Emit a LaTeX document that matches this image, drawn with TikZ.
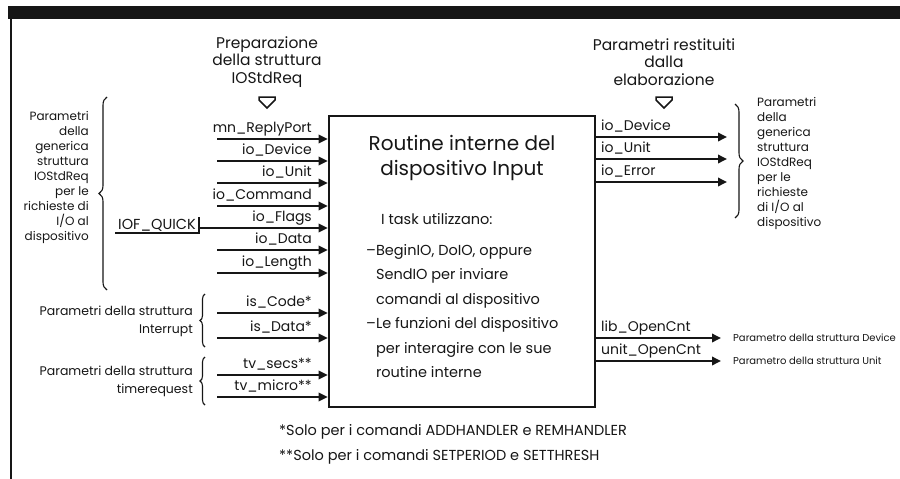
\documentclass[tikz,border=0pt]{standalone}
\usepackage{fontspec}
\setmainfont{Poppins}
\usetikzlibrary{arrows.meta,positioning,calc,decorations.pathreplacing}
\definecolor{Ink}{HTML}{161616}
\tikzset{
  arr/.style={-{Triangle[length=9pt,width=8.5pt]}, line width=1.8pt, draw=Ink},
  lbl/.style={inner xsep=1pt, inner ysep=0pt, text height=11pt, text depth=6pt, text=Ink, font=\fontsize{14}{16}\selectfont},
  quickbox/.style={inner xsep=3pt, inner ysep=0pt, text height=13pt, text depth=3pt, text=Ink, font=\fontsize{14.5}{16}\selectfont},
  head/.style={align=center, text=Ink, font=\fontsize{15.5}{17.5}\selectfont},
  note/.style={inner sep=0pt, text=Ink, font=\fontsize{12}{15}\selectfont},
  small/.style={inner sep=0pt, text=Ink, font=\fontsize{10}{12}\selectfont},
  titletext/.style={align=center, text=Ink, font=\fontsize{20}{25}\selectfont},
  body/.style={inner sep=0pt, align=left, text=Ink, font=\fontsize{14.5}{24.5}\selectfont},
  fnote/.style={inner sep=0pt, text=Ink, font=\fontsize{14.5}{16}\selectfont},
  devbox/.style={draw=Ink, line width=2.6pt, minimum width=266pt, minimum height=291pt, inner sep=0pt},
  brace/.style={decorate, decoration={brace, amplitude=#1}, line width=1.1pt, draw=Ink},
  hollow/.style={line width=1.5pt, draw=Ink, line join=miter}
}

\begin{document}
\begin{tikzpicture}[x=1pt,y=-1pt]
\useasboundingbox (0,0) rectangle (900,479);
% frame
\fill[Ink] (8,6) rectangle (900,19);
\draw[Ink, line width=2pt] (10.5,19) -- (10.5,479);

% device routines
\node[devbox] (dev) at (462,261.5) {};
\node[titletext] (devtitle) at (462,158) {Routine interne del\\dispositivo Input};
\node[body, anchor=west] (tasks) at (381,219) {I task utilizzano:};
\node[body, anchor=west] (tasklist) at (366,311) {–BeginIO, DoIO, oppure\\\phantom{–}SendIO per inviare\\\phantom{–}comandi al dispositivo\\–Le funzioni del dispositivo\\\phantom{–}per interagire con le sue\\\phantom{–}routine interne};

% headings
\coordinate (hline) at (0,97);
\node[head] (prep) at (267,62) {Preparazione\\della struttura\\IOStdReq};
\node[head] (ret) at (664,62) {Parametri restituiti\\dalla\\elaborazione};
\draw[hollow] (prep.south |- hline) ++(-8,0) -- ++(16,0) -- ++(0,3) -- ++(-8,8) -- ++(-8,-8) -- cycle;
\draw[hollow] (ret.south |- hline) ++(-8,0) -- ++(16,0) -- ++(0,3) -- ++(-8,8) -- ++(-8,-8) -- cycle;

% input parameters
\coordinate (inx) at (217,0);
\node[lbl, anchor=south east] (reply) at (313,139) {mn\_ReplyPort};
\node[lbl, anchor=south east] (idev) at (313,161) {io\_Device};
\node[lbl, anchor=south east] (iunit) at (313,183) {io\_Unit};
\node[lbl, anchor=south east] (icmd) at (313,206) {io\_Command};
\node[lbl, anchor=south east] (iflags) at (313,228) {io\_Flags};
\node[lbl, anchor=south east] (idata) at (313,250) {io\_Data};
\node[lbl, anchor=south east] (ilen) at (313,273) {io\_Length};
\node[lbl, anchor=south east] (iscode) at (313,313) {is\_Code*};
\node[lbl, anchor=south east] (isdata) at (313,338) {is\_Data*};
\node[lbl, anchor=south east] (tvsecs) at (313,375) {tv\_secs**};
\node[lbl, anchor=south east] (tvmicro) at (313,397) {tv\_micro**};
\node[quickbox, anchor=south east] (quick) at (199,233) {IOF\_QUICK};
\draw[Ink, line width=1.6pt] (quick.south west) -- (quick.south east) -- (quick.north east);

\draw[arr] (inx |- reply.south) -- (dev.west |- reply.south);
\draw[arr] (inx |- idev.south) -- (dev.west |- idev.south);
\draw[arr] (inx |- iunit.south) -- (dev.west |- iunit.south);
\draw[arr] (inx |- icmd.south) -- (dev.west |- icmd.south);
\draw[arr] (quick.east |- iflags.south) -- (dev.west |- iflags.south);
\draw[arr] (inx |- idata.south) -- (dev.west |- idata.south);
\draw[arr] (inx |- ilen.south) -- (dev.west |- ilen.south);
\draw[arr] (inx |- iscode.south) -- (dev.west |- iscode.south);
\draw[arr] (inx |- isdata.south) -- (dev.west |- isdata.south);
\draw[arr] (inx |- tvsecs.south) -- (dev.west |- tvsecs.south);
\draw[arr] (inx |- tvmicro.south) -- (dev.west |- tvmicro.south);

% braces on the left
\draw[brace=8pt] (107,290) -- (107,97);
\node[note, align=right, anchor=east] (genin) at (89,177) {Parametri\\della\\generica\\struttura\\IOStdReq\\per le\\richieste di\\I/O al\\dispositivo};
\draw[brace=5pt] (205,347) -- (205,294);
\node[note, align=right, anchor=east, font=\fontsize{12.5}{18}\selectfont] (intr) at (193,321) {Parametri della struttura\\Interrupt};
\draw[brace=5pt] (205,405) -- (205,357);
\node[note, align=right, anchor=east, font=\fontsize{12.5}{18}\selectfont] (treq) at (193,381) {Parametri della struttura\\timerequest};

% returned parameters
\coordinate (outx) at (727,0);
\node[lbl, anchor=south west] (odev) at (600,137) {io\_Device};
\node[lbl, anchor=south west] (ounit) at (600,159) {io\_Unit};
\node[lbl, anchor=south west] (oerr) at (600,182) {io\_Error};
\draw[arr] (dev.east |- odev.south) -- (outx |- odev.south);
\draw[arr] (dev.east |- ounit.south) -- (outx |- ounit.south);
\draw[arr] (dev.east |- oerr.south) -- (outx |- oerr.south);
\draw[brace=8pt] (735,104) -- (735,218);
\node[note, align=left, anchor=west] (genout) at (757,163) {Parametri\\della\\generica\\struttura\\IOStdReq\\per le\\richieste\\di I/O al\\dispositivo};

% open counters
\node[lbl, anchor=south west] (libcnt) at (600,338) {lib\_OpenCnt};
\node[lbl, anchor=south west] (unitcnt) at (600,361) {unit\_OpenCnt};
\node[small, anchor=west] (devpar) at (733,338) {Parametro della struttura Device};
\node[small, anchor=west] (unitpar) at (733,361) {Parametro della struttura Unit};
\draw[arr] (dev.east |- libcnt.south) -- ([xshift=-12pt]devpar.west);
\draw[arr] (dev.east |- unitcnt.south) -- ([xshift=-12pt]unitpar.west);

% footnotes
\node[fnote, anchor=west] (fn1) at (279,432) {*Solo per i comandi ADDHANDLER e REMHANDLER};
\node[fnote, below=10pt of fn1.south west, anchor=north west] (fn2) {**Solo per i comandi SETPERIOD e SETTHRESH};
\end{tikzpicture}
\end{document}
